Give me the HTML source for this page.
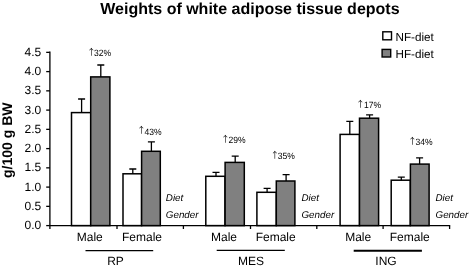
<!DOCTYPE html>
<html><head><meta charset="utf-8"><title>Weights of white adipose tissue depots</title>
<style>
html,body{margin:0;padding:0;background:#fff;}
body{width:470px;height:268px;overflow:hidden;}
svg{display:block;font-family:"Liberation Sans",sans-serif;fill:#000;text-rendering:geometricPrecision;}
</style></head><body>
<svg width="470" height="268" viewBox="0 0 470 268">
<rect width="470" height="268" fill="#fff"/>
<text x="249.9" y="14.4" text-anchor="middle" font-size="16" font-weight="bold">Weights of white adipose tissue depots</text>
<text transform="translate(12.1,140.2) rotate(-90)" text-anchor="middle" font-size="14" font-weight="bold">g/100 g BW</text>
<g stroke="#000" stroke-width="1.3" fill="none">
<path d="M49.9 51.5V229.0M49.9 225.6H450.2"/>
<path d="M46.2 225.60H49.9"/><path d="M46.2 206.35H49.9"/><path d="M46.2 187.10H49.9"/><path d="M46.2 167.85H49.9"/><path d="M46.2 148.60H49.9"/><path d="M46.2 129.35H49.9"/><path d="M46.2 110.10H49.9"/><path d="M46.2 90.85H49.9"/><path d="M46.2 71.60H49.9"/><path d="M46.2 52.35H49.9"/><path d="M117.0 225.6V229.0"/><path d="M183.4 225.6V229.0"/><path d="M250.5 225.6V229.0"/><path d="M316.8 225.6V229.0"/><path d="M383.1 225.6V229.0"/><path d="M449.6 225.6V229.0"/></g>
<text x="41.3" y="229.20" text-anchor="end" font-size="12">0.0</text><text x="41.3" y="209.95" text-anchor="end" font-size="12">0.5</text><text x="41.3" y="190.70" text-anchor="end" font-size="12">1.0</text><text x="41.3" y="171.45" text-anchor="end" font-size="12">1.5</text><text x="41.3" y="152.20" text-anchor="end" font-size="12">2.0</text><text x="41.3" y="132.95" text-anchor="end" font-size="12">2.5</text><text x="41.3" y="113.70" text-anchor="end" font-size="12">3.0</text><text x="41.3" y="94.45" text-anchor="end" font-size="12">3.5</text><text x="41.3" y="75.20" text-anchor="end" font-size="12">4.0</text><text x="41.3" y="55.95" text-anchor="end" font-size="12">4.5</text>
<g stroke="#000" stroke-width="1.5">
<rect x="71.5" y="112.6" width="19.2" height="113.0" fill="#fff"/><rect x="90.7" y="76.9" width="19.2" height="148.7" fill="#808080"/><path stroke-width="1.3" d="M81.6 112.6V99.0M78.1 99.0H85.1"/><path stroke-width="1.3" d="M100.8 76.9V65M97.3 65H104.3"/>
<rect x="123.0" y="173.8" width="18.6" height="51.8" fill="#fff"/><rect x="141.6" y="151.3" width="18.7" height="74.3" fill="#808080"/><path stroke-width="1.3" d="M132.8 173.8V169M129.3 169H136.3"/><path stroke-width="1.3" d="M151.4 151.3V141.9M147.9 141.9H154.9"/>
<rect x="205.8" y="176.3" width="19.2" height="49.3" fill="#fff"/><rect x="225.1" y="162.4" width="19.2" height="63.2" fill="#808080"/><path stroke-width="1.3" d="M216.0 176.3V172.3M212.5 172.3H219.5"/><path stroke-width="1.3" d="M235.2 162.4V156.1M231.7 156.1H238.7"/>
<rect x="256.9" y="192.3" width="19.4" height="33.3" fill="#fff"/><rect x="276.3" y="181.0" width="18.6" height="44.6" fill="#808080"/><path stroke-width="1.3" d="M267.1 192.3V188.3M263.6 188.3H270.6"/><path stroke-width="1.3" d="M286.1 181.0V174.7M282.6 174.7H289.6"/>
<rect x="340.1" y="134.4" width="19.4" height="91.2" fill="#fff"/><rect x="359.5" y="118.2" width="19.1" height="107.4" fill="#808080"/><path stroke-width="1.3" d="M349.8 134.4V121.3M346.3 121.3H353.3"/><path stroke-width="1.3" d="M369.6 118.2V114.9M366.1 114.9H373.1"/>
<rect x="391.2" y="180.2" width="19.1" height="45.4" fill="#fff"/><rect x="410.4" y="164.1" width="18.7" height="61.5" fill="#808080"/><path stroke-width="1.3" d="M401.3 180.2V177.2M397.8 177.2H404.8"/><path stroke-width="1.3" d="M419.6 164.1V157.8M416.1 157.8H423.1"/>
</g>
<rect x="382.8" y="31.8" width="8.7" height="8.0" fill="#fff" stroke="#000" stroke-width="1.4"/><rect x="382.1" y="49.4" width="8.6" height="7.6" fill="#808080" stroke="#000" stroke-width="1.4"/><text x="395.5" y="40.5" font-size="11.7">NF-diet</text><text x="395.5" y="57.8" font-size="11.7">HF-diet</text>
<text x="91.35" y="54.70" text-anchor="middle" font-size="8.7" font-family="'Noto Sans CJK JP','Noto Sans CJK SC','Liberation Sans',sans-serif">↑</text><text transform="translate(94.10,56.0) scale(0.94,1)" font-size="9.1">32%</text><text x="141.35" y="133.30" text-anchor="middle" font-size="8.7" font-family="'Noto Sans CJK JP','Noto Sans CJK SC','Liberation Sans',sans-serif">↑</text><text transform="translate(144.40,134.8) scale(0.94,1)" font-size="9.1">43%</text><text x="225.35" y="142.10" text-anchor="middle" font-size="8.7" font-family="'Noto Sans CJK JP','Noto Sans CJK SC','Liberation Sans',sans-serif">↑</text><text transform="translate(228.40,143.2) scale(0.94,1)" font-size="9.1">29%</text><text x="274.75" y="158.30" text-anchor="middle" font-size="8.7" font-family="'Noto Sans CJK JP','Noto Sans CJK SC','Liberation Sans',sans-serif">↑</text><text transform="translate(277.80,159.1) scale(0.94,1)" font-size="9.1">35%</text><text x="360.35" y="107.10" text-anchor="middle" font-size="8.7" font-family="'Noto Sans CJK JP','Noto Sans CJK SC','Liberation Sans',sans-serif">↑</text><text transform="translate(364.10,108.2) scale(0.94,1)" font-size="9.1">17%</text><text x="412.35" y="143.75" text-anchor="middle" font-size="8.7" font-family="'Noto Sans CJK JP','Noto Sans CJK SC','Liberation Sans',sans-serif">↑</text><text transform="translate(415.40,145.0) scale(0.94,1)" font-size="9.1">34%</text>
<text x="165.85" y="201.4" font-size="9.8" font-style="italic">Diet</text><text x="165.85" y="217.6" font-size="9.8" font-style="italic">Gender</text><text x="301.5" y="201.4" font-size="9.8" font-style="italic">Diet</text><text x="301.5" y="217.6" font-size="9.8" font-style="italic">Gender</text><text x="435.55" y="201.4" font-size="9.8" font-style="italic">Diet</text><text x="435.55" y="217.6" font-size="9.8" font-style="italic">Gender</text>
<text x="89.8" y="240.8" text-anchor="middle" font-size="12">Male</text><text x="142" y="240.8" text-anchor="middle" font-size="12">Female</text><text x="224" y="240.8" text-anchor="middle" font-size="12">Male</text><text x="275.7" y="240.8" text-anchor="middle" font-size="12">Female</text><text x="358.2" y="240.8" text-anchor="middle" font-size="12">Male</text><text x="409.8" y="240.8" text-anchor="middle" font-size="12">Female</text>
<path d="M85.5 250.6H153.2" stroke="#000" stroke-width="1.2"/><text x="115.55" y="265.3" text-anchor="middle" font-size="12">RP</text><path d="M216.7 250.45H284.8" stroke="#000" stroke-width="1.2"/><text x="250.9" y="265.0" text-anchor="middle" font-size="12">MES</text><path d="M353.7 250.75H421.9" stroke="#000" stroke-width="1.8"/><text x="386.0" y="265.0" text-anchor="middle" font-size="12">ING</text>
</svg></body></html>
